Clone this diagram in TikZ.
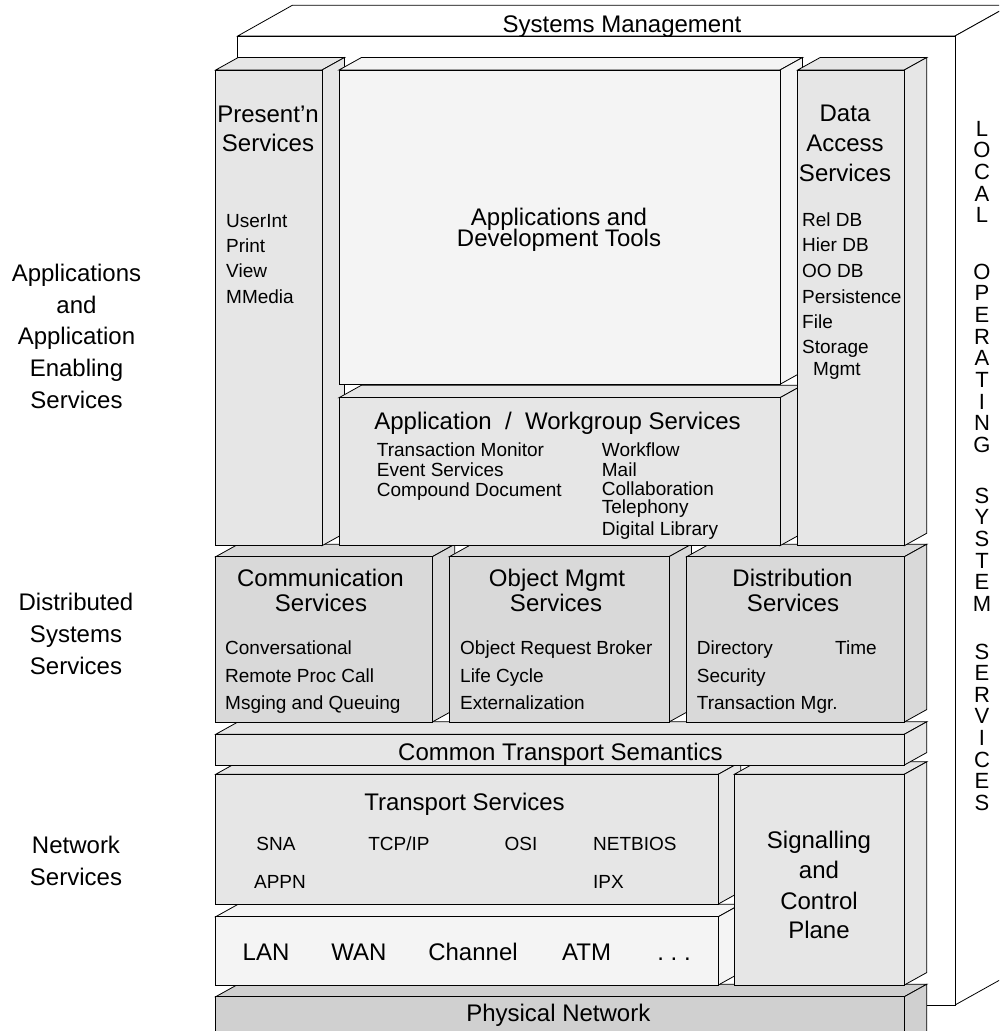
\documentclass[tikz,border=0pt]{standalone}
\usepackage{fontspec}
\setmainfont{Liberation Sans}
\definecolor{cLight}{HTML}{F4F4F4}
\definecolor{cMid}{HTML}{E6E6E6}
\definecolor{cDark}{HTML}{D9D9D9}
\definecolor{cPhys}{HTML}{D0D0D0}
\newcommand\slab[5]{%
  \filldraw[box,fill=#1] (#2,#3) -- (#2+22.5,#3-12.5) -- (#4+22.5,#3-12.5) -- (#4,#3) -- cycle;
  \filldraw[box,fill=#1] (#4,#3) -- (#4+22.5,#3-12.5) -- (#4+22.5,#5-12.5) -- (#4,#5) -- cycle;
  \filldraw[box,fill=#1] (#2,#3) rectangle (#4,#5);}
\tikzset{
  box/.style={draw=black, line width=0.8pt, line join=miter},
  big/.style={inner sep=0pt, anchor=base, font=\fontsize{24}{28}\selectfont},
  smw/.style={inner sep=0pt, anchor=base west, font=\fontsize{19}{22}\selectfont},
  smc/.style={inner sep=0pt, anchor=base, font=\fontsize{19}{22}\selectfont},
  bigw/.style={inner sep=0pt, anchor=base west, font=\fontsize{24}{28}\selectfont},
  vlet/.style={inner sep=0pt, anchor=base, font=\fontsize{22}{22}\selectfont},
}
\begin{document}
\begin{tikzpicture}[x=1pt,y=-1pt]
\useasboundingbox (0,0) rectangle (999,1031);
\fill[white] (0,0) rectangle (999,1031);
\clip (0,0) rectangle (999,1031);
% outer frame
\filldraw[box,fill=white] (237.7,36) -- (292.3,5.3) -- (1010,5.3) -- (955,36) -- cycle;
\filldraw[box,fill=white] (955,36) -- (1010,5.3) -- (1010,974.3) -- (955,1005) -- cycle;
\filldraw[box,fill=white] (237.7,36) rectangle (955,1005);
% boxes, back to front
\slab{cPhys}{215.7}{996.7}{904.3}{1045}
\slab{cLight}{215.7}{916.7}{718.3}{985}
\slab{cMid}{215.7}{774.3}{718.3}{904}
\slab{cMid}{734.3}{774.3}{904.3}{985}
\slab{cMid}{215.7}{734.3}{904.3}{765}
\slab{cDark}{215.7}{556.7}{432.3}{722}
\slab{cDark}{449.3}{556.7}{669}{722}
\slab{cDark}{686.7}{556.7}{904.3}{722}
\slab{cMid}{215.7}{70}{322}{545.7}
\slab{cMid}{339}{397.7}{780}{545.7}
\slab{cLight}{339}{70}{780}{384.3}
\slab{cMid}{797.7}{70}{904.3}{545.7}
% texts
\node[big] (sysm) at (622,32) {Systems Management};
\node[big] (pres1) at (268,122.7) {Present'n};
\node[big] (pres2) at (268,151.7) {Services};
\node[smw] (ui) at (226,227) {UserInt};
\node[smw] (pr) at (226,252) {Print};
\node[smw] (vw) at (226,277) {View};
\node[smw] (mm) at (226,303) {MMedia};
\node[big] (adt1) at (559,225) {Applications and};
\node[big] (adt2) at (559,246.7) {Development Tools};
\node[big] (aws) at (557.5,429) {Application~~/~~Workgroup Services};
\node[smw] (tm) at (376.7,456) {Transaction Monitor};
\node[smw] (es) at (376.7,476.7) {Event Services};
\node[smw] (cd) at (376.7,496) {Compound Document};
\node[smw] (wf) at (601.7,456) {Workflow};
\node[smw] (ml) at (601.7,476.7) {Mail};
\node[smw] (co) at (601.7,495.7) {Collaboration};
\node[smw] (te) at (601.7,513.3) {Telephony};
\node[smw] (dl) at (601.7,535.7) {Digital Library};
\node[big] (da1) at (845,121.7) {Data};
\node[big] (da2) at (845,151.7) {Access};
\node[big] (da3) at (845,181.7) {Services};
\node[smw] (rdb) at (802,226) {Rel DB};
\node[smw] (hdb) at (802,251) {Hier DB};
\node[smw] (odb) at (802,277) {OO DB};
\node[smw] (per) at (802,303) {Persistence};
\node[smw] (fil) at (802,328) {File};
\node[smw] (sto) at (802,353) {Storage};
\node[smw] (mgt) at (813,375) {Mgmt};
\node[big] (cs1) at (320.5,586) {Communication};
\node[big] (cs2) at (321,611) {Services};
\node[smw] (cv) at (225,654) {Conversational};
\node[smw] (rpc) at (225,682) {Remote Proc Call};
\node[smw] (mq) at (225,709) {Msging and Queuing};
\node[big] (om1) at (557,586) {Object Mgmt};
\node[big] (om2) at (556,611) {Services};
\node[smw] (orb) at (460,654) {Object Request Broker};
\node[smw] (lc) at (460,682) {Life Cycle};
\node[smw] (ext) at (460,709) {Externalization};
\node[big] (ds1) at (792.5,586) {Distribution};
\node[big] (ds2) at (793,611) {Services};
\node[smw] (dir) at (696.7,654) {Directory};
\node[smw] (tim) at (835,654) {Time};
\node[smw] (sec) at (696.7,682) {Security};
\node[smw] (tmg) at (696.7,709) {Transaction Mgr.};
\node[big] (cts) at (560.5,760) {Common Transport Semantics};
\node[big] (ts) at (464.5,810) {Transport Services};
\node[smc] (sna) at (276,850) {SNA};
\node[smc] (tcp) at (399,850) {TCP/IP};
\node[smc] (osi) at (521,850) {OSI};
\node[smw] (nb) at (593,850) {NETBIOS};
\node[smc] (appn) at (280,888.3) {APPN};
\node[smw] (ipx) at (593,888.3) {IPX};
\node[big] (lan) at (266,960) {LAN};
\node[big] (wan) at (359,960) {WAN};
\node[big] (chn) at (473,960) {Channel};
\node[bigw] (atm) at (562,960) {ATM};
\node[big] (dots) at (674,960) {.\ .\ .};
\node[big] (sg1) at (819,848) {Signalling};
\node[big] (sg2) at (819,878.5) {and};
\node[big] (sg3) at (819,909) {Control};
\node[big] (sg4) at (819,938) {Plane};
\node[big] (phy) at (558.3,1021.5) {Physical Network};
% left labels
\node[big] (la1) at (76.5,281) {Applications};
\node[big] (la2) at (76.5,313) {and};
\node[big] (la3) at (76.5,344) {Application};
\node[big] (la4) at (76.5,376) {Enabling};
\node[big] (la5) at (76.5,408) {Services};
\node[big] (lb1) at (76,610) {Distributed};
\node[big] (lb2) at (76,642) {Systems};
\node[big] (lb3) at (76,674) {Services};
\node[big] (lc1) at (76,853) {Network};
\node[big] (lc2) at (76,885) {Services};
% vertical text
\foreach \l [count=\i] in {L,O,C,A,L}
  \node[vlet] (wa\i) at (982,{136+(\i-1)*21.7}) {\l};
\foreach \l [count=\i] in {O,P,E,R,A,T,I,N,G}
  \node[vlet] (wb\i) at (982,{279+(\i-1)*21.7}) {\l};
\foreach \l [count=\i] in {S,Y,S,T,E,M}
  \node[vlet] (wc\i) at (982,{503+(\i-1)*21.7}) {\l};
\foreach \l [count=\i] in {S,E,R,V,I,C,E,S}
  \node[vlet] (wd\i) at (982,{659+(\i-1)*21.6}) {\l};
\end{tikzpicture}
\end{document}
